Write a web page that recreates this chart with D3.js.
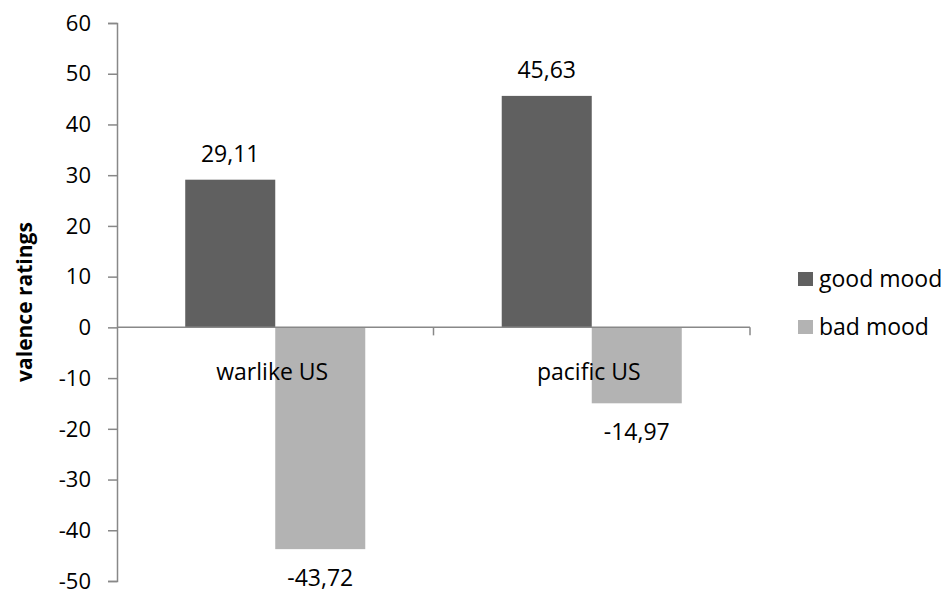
<!DOCTYPE html>
<html><head><meta charset="utf-8">
<script src="https://cdn.jsdelivr.net/npm/d3@7"></script>
<style>
html,body{margin:0;padding:0;background:#fff;}
text{font-family:"Open Sans","DejaVu Sans",sans-serif;fill:#000;}
</style></head>
<body><svg id="c" width="945" height="591"></svg>
<script>
const categories = ["warlike US", "pacific US"];
const seriesNames = ["good mood", "bad mood"];
const goodMood = [29.11, 45.63];
const badMood = [-43.72, -14.97];
const valueLabels = [["29,11", "45,63"], ["-43,72", "-14,97"]];
const yTicks = [-50, -40, -30, -20, -10, 0, 10, 20, 30, 40, 50, 60];
const colors = ["#606060", "#b3b3b3"];
const axisColor = "#888888";

const series = [goodMood, badMood];
const svg = d3.select("#c");
const fontSize = 23;

const y = d3.scaleLinear().domain([-50, 60]).range([581, 23]);
const x0 = d3.scaleBand().domain(categories).range([117, 750]).padding(0);
const x1 = d3.scaleBand().domain(seriesNames).range([0, x0.bandwidth()]).paddingInner(0).paddingOuter(0.758);

// y axis
const yAxis = d3.axisLeft(y).tickValues(yTicks).tickSize(9).tickPadding(17).tickFormat(d => String(d));
const gy = svg.append("g").attr("transform", "translate(117,0)").call(yAxis);
gy.select(".domain").attr("stroke", axisColor).attr("stroke-width", 1.5);
gy.selectAll(".tick line").attr("stroke", axisColor).attr("stroke-width", 1.5);
gy.selectAll(".tick text").style("font-family", '"Open Sans",sans-serif').style("font-size", "22px").attr("fill", "#000").attr("dy", "0.33em");

// bars
const bars = [];
categories.forEach((c, i) => {
  seriesNames.forEach((s, j) => {
    bars.push({c, s, v: series[j][i], label: valueLabels[j][i], j});
  });
});
svg.append("g").selectAll("rect").data(bars).join("rect")
  .attr("x", d => x0(d.c) + x1(d.s))
  .attr("width", x1.bandwidth())
  .attr("y", d => y(Math.max(0, d.v)))
  .attr("height", d => Math.abs(y(d.v) - y(0)))
  .attr("fill", d => colors[d.j]);

// x axis line and ticks
const bounds = categories.map(c => x0(c)).concat([x0.range()[1]]);
svg.append("line").attr("x1", x0.range()[0]).attr("x2", x0.range()[1])
  .attr("y1", y(0)).attr("y2", y(0)).attr("stroke", axisColor).attr("stroke-width", 1.5);
svg.append("g").selectAll("line").data(bounds.slice(1)).join("line")
  .attr("x1", d => d).attr("x2", d => d)
  .attr("y1", y(0)).attr("y2", y(0) + 8)
  .attr("stroke", axisColor).attr("stroke-width", 1.5);

// value labels
svg.append("g").selectAll("text").data(bars).join("text")
  .attr("x", d => x0(d.c) + x1(d.s) + x1.bandwidth() / 2)
  .attr("y", d => d.v >= 0 ? y(d.v) - 18 : y(d.v) + 37)
  .attr("text-anchor", "middle")
  .style("font-size", fontSize + "px")
  .text(d => d.label);

// category labels
svg.append("g").selectAll("text").data(categories).join("text")
  .attr("x", d => x0(d) + x0.bandwidth() / 2 - 3)
  .attr("y", y(0) + 53)
  .attr("text-anchor", "middle")
  .style("font-size", fontSize + "px")
  .text(d => d);

// y title
svg.append("text")
  .attr("transform", `translate(32,${(y.range()[0] + y.range()[1]) / 2}) rotate(-90)`)
  .attr("text-anchor", "middle")
  .style("font-size", "21px").style("font-weight", "bold")
  .text("valence ratings");

// legend
const lg = svg.append("g");
seriesNames.forEach((s, j) => {
  lg.append("rect").attr("x", 798).attr("y", 272 + j * 48).attr("width", 15).attr("height", 14).attr("fill", colors[j]);
  lg.append("text").attr("x", 819).attr("y", 287 + j * 48).style("font-size", fontSize + "px").text(s);
});
</script></body></html>
